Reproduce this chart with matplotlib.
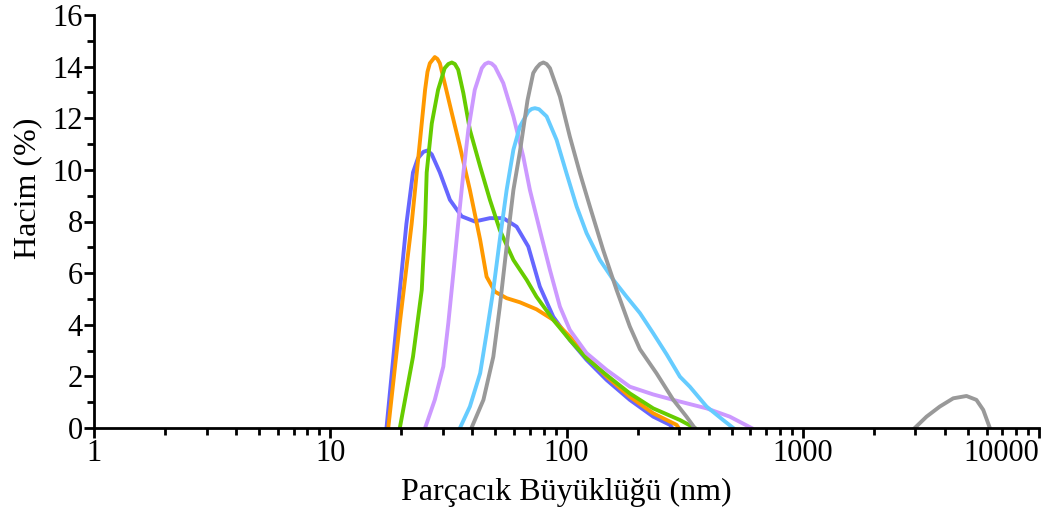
import matplotlib
matplotlib.use('Agg')
import matplotlib.pyplot as plt
from matplotlib.ticker import LogLocator, FixedLocator, NullFormatter

# Hacim dağılımları (x: nm, y: %)
mavi_x = [17.3, 19.1, 21.0, 22.4, 23.5, 24.8, 25.8, 26.9, 29.1, 32.1, 36.0, 40.9, 47.4, 54.0,
          61.5, 68.9, 77.1, 87.9, 103.3, 121.6, 147.9, 185.4, 232.8, 274.2, 280]
mavi_y = [0, 4.07, 7.9, 9.9, 10.45, 10.7, 10.75, 10.6, 9.9, 8.84, 8.2, 8.0, 8.13, 8.13,
          7.8, 7.03, 5.48, 4.31, 3.41, 2.64, 1.86, 1.09, 0.44, 0.12, 0]

turuncu_x = [17.6, 19.7, 22.1, 24.0, 25.2, 25.8, 26.4, 27.7, 28.4, 29.1, 30.5, 32.7, 35.4, 39.0,
             43.1, 45.9, 49.8, 55.8, 63.5, 74.6, 87.9, 103.3, 121.6, 147.9, 185.4, 232.8,
             292.4, 298.5]
turuncu_y = [0, 4.07, 7.9, 11.16, 13.1, 13.8, 14.13, 14.37, 14.3, 14.13, 13.36, 12.2, 10.9, 9.22,
             7.29, 5.86, 5.28, 5.03, 4.87, 4.6, 4.19, 3.54, 2.76, 1.99, 1.21, 0.57,
             0.12, 0]

yesil_x = [19.7, 22.4, 24.4, 25.2, 25.6, 26.9, 28.6, 30.5, 31.6, 32.7, 33.7, 34.8, 36.6, 39.0,
           43.1, 47.4, 52.2, 59.6, 67.8, 74.6, 87.9, 103.3, 121.6, 147.9, 185.4, 232.8, 302, 349]
yesil_y = [0, 2.76, 5.35, 7.9, 9.9, 11.8, 13.1, 13.94, 14.1, 14.16, 14.1, 13.88, 12.97, 11.55,
           10.13, 8.84, 7.67, 6.51, 5.74, 5.09, 4.19, 3.41, 2.70, 2.05, 1.34, 0.76, 0.31, 0]

mor_x = [25.2, 27.7, 30.1, 31.6, 33.2, 34.8, 36.6, 38.4, 40.9, 43.8, 45.2, 46.7, 48.2, 49.8,
         54.0, 59.6, 65.6, 70.0, 77.1, 85.1, 93.8, 103.3, 121.6, 147.9, 185.4, 232.8, 283,
         392, 491, 607]
mor_y = [0, 1.09, 2.38, 4.06, 6.0, 7.93, 9.87, 11.55, 13.1, 13.94, 14.1, 14.16, 14.12, 14.0,
         13.36, 12.07, 10.52, 9.22, 7.67, 6.12, 4.70, 3.80, 2.90, 2.25, 1.6, 1.3, 1.09,
         0.76, 0.44, 0]

acik_mavi_x = [35.4, 39.0, 43.1, 45.9, 49.0, 52.2, 55.8, 59.6, 63.5, 68.9, 71.2, 73.5, 76.5,
               82.4, 90.8, 100, 110.4, 121.6, 138.4, 157.8, 179.5, 204.6, 232.8, 265.5, 302,
               332.7, 391.7, 460, 508]
acik_mavi_y = [0, 0.83, 2.12, 3.67, 5.35, 7.29, 9.22, 10.78, 11.68, 12.26, 12.36, 12.39, 12.35,
               12.07, 11.16, 9.87, 8.58, 7.55, 6.51, 5.74, 5.09, 4.45, 3.67, 2.85, 1.99,
               1.60, 0.83, 0.31, 0]

gri_x = [39.6, 44.5, 49.0, 52.2, 55.8, 59.6, 63.5, 68.4, 72.3, 74.6, 77.2, 79.8, 82.4, 85.1,
         93.8, 103.3, 114, 125.6, 142.9, 162.9, 185.4, 204.6, 240.4, 283.1, 322, 349]
gri_y = [0, 1.09, 2.76, 4.70, 7.03, 9.22, 10.7, 12.7, 13.75, 13.95, 14.1, 14.16, 14.1, 13.94,
         12.84, 11.29, 9.87, 8.58, 6.90, 5.35, 3.93, 3.05, 2.12, 1.09, 0.44, 0]

gri2_x = [2979, 3342, 3802, 4335, 4932, 5433, 5808, 6194]
gri2_y = [0, 0.44, 0.83, 1.15, 1.24, 1.09, 0.70, 0]

plt.rcParams['font.family'] = ['Liberation Serif', 'DejaVu Serif']

fig = plt.figure(figsize=(10.54, 5.14), dpi=100)
ax = fig.add_axes([94 / 1054, 1 - 428 / 514, (1039 - 94) / 1054, (428 - 15) / 514])

lw = 2.8
ax.plot(mavi_x, mavi_y, color='#6666FF', lw=lw, solid_joinstyle='round')
ax.plot(turuncu_x, turuncu_y, color='#FF9900', lw=lw, solid_joinstyle='round')
ax.plot(yesil_x, yesil_y, color='#66CC00', lw=lw, solid_joinstyle='round')
ax.plot(mor_x, mor_y, color='#CC99FF', lw=lw, solid_joinstyle='round')
ax.plot(acik_mavi_x, acik_mavi_y, color='#66CCFF', lw=lw, solid_joinstyle='round')
ax.plot(gri_x, gri_y, color='#999999', lw=lw, solid_joinstyle='round')
ax.plot(gri2_x, gri2_y, color='#999999', lw=lw, solid_joinstyle='round')

ax.set_xscale('log')
ax.set_xlim(1, 10000)
ax.set_ylim(0, 16)

ax.xaxis.set_major_locator(FixedLocator([1, 10, 100, 1000, 10000]))
ax.xaxis.set_minor_locator(LogLocator(base=10, subs=range(2, 10)))
ax.xaxis.set_minor_formatter(NullFormatter())
ax.set_xticklabels(['1', '10', '100', '1000', '10000'])
ax.set_yticks(range(0, 17, 2))
ax.set_yticks(range(1, 17, 2), minor=True)

for s in ['top', 'right']:
    ax.spines[s].set_visible(False)
for s in ['left', 'bottom']:
    ax.spines[s].set_linewidth(2)
    ax.spines[s].set_color('black')

ax.tick_params(which='major', length=7, width=2, labelsize=22, pad=1, colors='black')
ax.tick_params(which='minor', length=5, width=2)
ax.get_xticklabels()[-1].set_horizontalalignment('right')

ax.set_xlabel('Parçacık Büyüklüğü (nm)', fontsize=23, labelpad=7)
ax.set_ylabel('Hacim (%)', fontsize=23)
ax.yaxis.set_label_coords(-0.055, 0.58)

fig.savefig('out.png', dpi=100)
